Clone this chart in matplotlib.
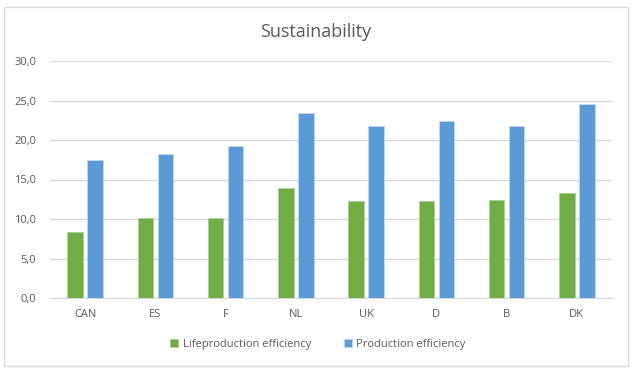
import matplotlib
matplotlib.use("Agg")
import matplotlib.pyplot as plt
import numpy as np
from matplotlib.patches import Rectangle

plt.rcParams['font.family'] = ['Open Sans', 'DejaVu Sans']

categories = ['CAN', 'ES', 'F', 'NL', 'UK', 'D', 'B', 'DK']
life_eff = [8.3, 10.1, 10.1, 13.9, 12.3, 12.3, 12.4, 13.3]
prod_eff = [17.5, 18.2, 19.3, 23.4, 21.8, 22.4, 21.8, 24.5]

green = '#70AD47'
blue = '#5B9BD5'
txt = '#595959'

fig = plt.figure(figsize=(6.34, 3.77), dpi=100)
# outer chart border
fig.patches.append(Rectangle((4/634, 1 - 366/377), 624/634, 359/377, transform=fig.transFigure,
                             fill=False, edgecolor='#D9D9D9', linewidth=1))

ax = fig.add_axes([50/634, 1 - 298/377, 562/634, 237/377])
x = np.arange(len(categories))
w = 0.22
ax.bar(x - 0.143, life_eff, w, color=green, edgecolor='#A9D18E', linewidth=0.6,
       label='Lifeproduction efficiency', zorder=3)
ax.bar(x + 0.143, prod_eff, w, color=blue, edgecolor='#BDD7EE', linewidth=0.6,
       label='Production efficiency', zorder=3)

ax.set_xlim(-0.5, len(categories) - 0.5)
ax.set_ylim(0, 30)
ax.set_yticks(np.arange(0, 31, 5))
ax.set_yticklabels([f'{v:.1f}'.replace('.', ',') for v in np.arange(0, 31, 5)])
ax.set_xticks(x)
ax.set_xticklabels(categories)
ax.grid(axis='y', color='#D9D9D9', linewidth=1, zorder=0)
for s in ['top', 'right', 'left']:
    ax.spines[s].set_visible(False)
ax.spines['bottom'].set_color('#D9D9D9')
ax.tick_params(axis='both', length=0, colors=txt, labelsize=8)
ax.tick_params(axis='y', pad=10)
ax.tick_params(axis='x', pad=8)

fig.text(316/634, 1 - 32/377, 'Sustainability', ha='center', va='center',
         fontsize=13, color=txt)
handles, labels = ax.get_legend_handles_labels()
fig.legend(handles, labels, loc='center', bbox_to_anchor=(318/634, 1 - 344/377), ncol=2,
           frameon=False, fontsize=8, labelcolor=txt, handlelength=0.7, handleheight=0.7,
           columnspacing=3, handletextpad=0.4)

fig.savefig('out.png', dpi=100)
